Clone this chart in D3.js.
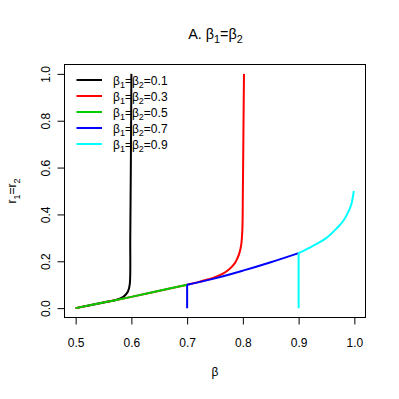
<!DOCTYPE html>
<html>
<head>
<meta charset="utf-8">
<script src="https://cdn.jsdelivr.net/npm/d3@7"></script>
<style>
  body { margin: 0; background: #fff; }
  text { font-family: "Liberation Sans", Arial, sans-serif; fill: #000; }
</style>
</head>
<body>
<div id="viz"></div>
<script>
// values
var xTicks = [0.5, 0.6, 0.7, 0.8, 0.9, 1.0];
var yTicks = [0.0, 0.2, 0.4, 0.6, 0.8, 1.0];
var legendValues = ["0.1", "0.3", "0.5", "0.7", "0.9"];
var colors = ["#000000", "#ff0000", "#00cd00", "#0000ff", "#00ffff"];

var beta01 = [0.5, 0.55, 0.575, 0.584, 0.59, 0.594, 0.597, 0.598, 0.599, 0.6];
var r01    = [0.0, 0.024, 0.037, 0.046, 0.058, 0.072, 0.1, 0.3, 0.6, 1.0];

var beta03 = [0.5, 0.6, 0.7, 0.72, 0.735, 0.75, 0.765, 0.776, 0.785, 0.79, 0.794, 0.797, 0.799, 0.8, 0.801, 0.802];
var r03    = [0.0, 0.048, 0.1, 0.111, 0.121, 0.132, 0.148, 0.167, 0.19, 0.212, 0.237, 0.27, 0.33, 0.5, 0.75, 1.0];

var beta05 = [0.5, 0.55, 0.6, 0.65, 0.7];
var r05    = [0.0, 0.024, 0.048, 0.074, 0.1];

// blue and cyan start with a vertical drop, then follow the common curve
var beta07 = [0.7, 0.7, 0.75, 0.8, 0.85, 0.9];
var r07    = [0.0, 0.1, 0.127, 0.16, 0.196, 0.235];

var beta09 = [0.9, 0.9, 0.925, 0.95, 0.97, 0.98, 0.99, 0.995, 0.999];
var r09    = [0.0, 0.235, 0.265, 0.3, 0.345, 0.372, 0.415, 0.447, 0.5];

var corners = [0, 0, 0, 1, 1];

var width = 399, height = 399,
    plotL = 64.5, plotR = 365.5, plotT = 64.5, plotB = 317.5;

var svg = d3.select("#viz")
  .append("svg")
    .attr("width", width)
    .attr("height", height);

var x = d3.scaleLinear().domain([0.48, 1.02]).range([plotL, plotR]);
var y = d3.scaleLinear().domain([-0.04, 1.04]).range([plotB, plotT]);

// writes "β1=β2..." style text with subscripts
function subText(sel, parts, size) {
  var sub = size * 0.75, shift = size * 0.3;
  parts.forEach(function(p) {
    var t = sel.append("tspan").text(p[0]);
    if (p[1]) t.attr("font-size", sub).attr("dy", shift);
    else if (p[2]) t.attr("font-size", size).attr("dy", -shift);
  });
}

// title
var title = svg.append("text")
  .attr("x", 215.5)
  .attr("y", 38.5)
  .attr("text-anchor", "middle")
  .attr("font-size", 14.4);
subText(title, [["A. β"], ["1", true], ["=β", false, true], ["2", true]], 14.4);

// axes
var xAxis = svg.append("g")
  .attr("transform", "translate(0," + plotB + ")")
  .call(d3.axisBottom(x).tickValues(xTicks).tickSize(7).tickFormat(d3.format(".1f")));
xAxis.select(".domain").remove();
xAxis.selectAll("text").attr("y", 29).attr("dy", 0).attr("font-size", 12);

var yAxis = svg.append("g")
  .attr("transform", "translate(" + plotL + ",0)")
  .call(d3.axisLeft(y).tickValues(yTicks).tickSize(7).tickFormat(d3.format(".1f")));
yAxis.select(".domain").remove();
yAxis.selectAll("text")
  .attr("transform", "rotate(-90)")
  .attr("text-anchor", "middle")
  .attr("x", 0).attr("y", -14.5).attr("dy", 0)
  .attr("font-size", 12);
svg.selectAll(".tick line").attr("stroke", "#000");
svg.selectAll(".tick text").attr("fill", "#000");
svg.selectAll("g").attr("font-family", null);

// box
svg.append("rect")
  .attr("x", plotL).attr("y", plotT)
  .attr("width", plotR - plotL).attr("height", plotB - plotT)
  .attr("fill", "none").attr("stroke", "#000").attr("stroke-width", 1);

// axis titles
svg.append("text")
  .attr("x", x(0.75)).attr("y", 375.5)
  .attr("text-anchor", "middle").attr("font-size", 12)
  .text("β");

var ylab = svg.append("text")
  .attr("transform", "translate(16," + ((plotT + plotB) / 2) + ") rotate(-90)")
  .attr("text-anchor", "middle").attr("font-size", 12);
subText(ylab, [["r"], ["1", true], ["=r", false, true], ["2", true]], 12);

// curves
var series = [[beta01, r01], [beta03, r03], [beta05, r05], [beta07, r07], [beta09, r09]];
var line = d3.line()
  .x(function(d) { return x(d[0]); })
  .y(function(d) { return y(d[1]); })
  .curve(d3.curveCatmullRom.alpha(0.5));

svg.selectAll("path.curve")
  .data(series)
  .enter()
  .append("path")
    .attr("class", "curve")
    .attr("d", function(s, i) {
      var pts = d3.zip(s[0], s[1]), c = corners[i];
      if (!c) return line(pts);
      // keep the corner sharp: vertical piece and curved piece drawn apart
      return line(pts.slice(0, c + 1)) + line(pts.slice(c));
    })
    .attr("fill", "none")
    .attr("stroke", function(d, i) { return colors[i]; })
    .attr("stroke-width", 2);

// legend
var legend = svg.selectAll("g.legend")
  .data(legendValues)
  .enter()
  .append("g")
    .attr("class", "legend")
    .attr("transform", function(d, i) { return "translate(0," + (80 + i * 16) + ")"; });

legend.append("line")
  .attr("x1", 76.5).attr("x2", 102)
  .attr("y1", 0).attr("y2", 0)
  .attr("stroke", function(d, i) { return colors[i]; })
  .attr("stroke-width", 2);

legend.append("text")
  .attr("x", 113)
  .attr("y", 4.5)
  .attr("font-size", 12)
  .each(function(d) {
    subText(d3.select(this), [["β"], ["1", true], ["=β", false, true], ["2", true], ["=" + d, false, true]], 12);
  });
</script>
</body>
</html>
